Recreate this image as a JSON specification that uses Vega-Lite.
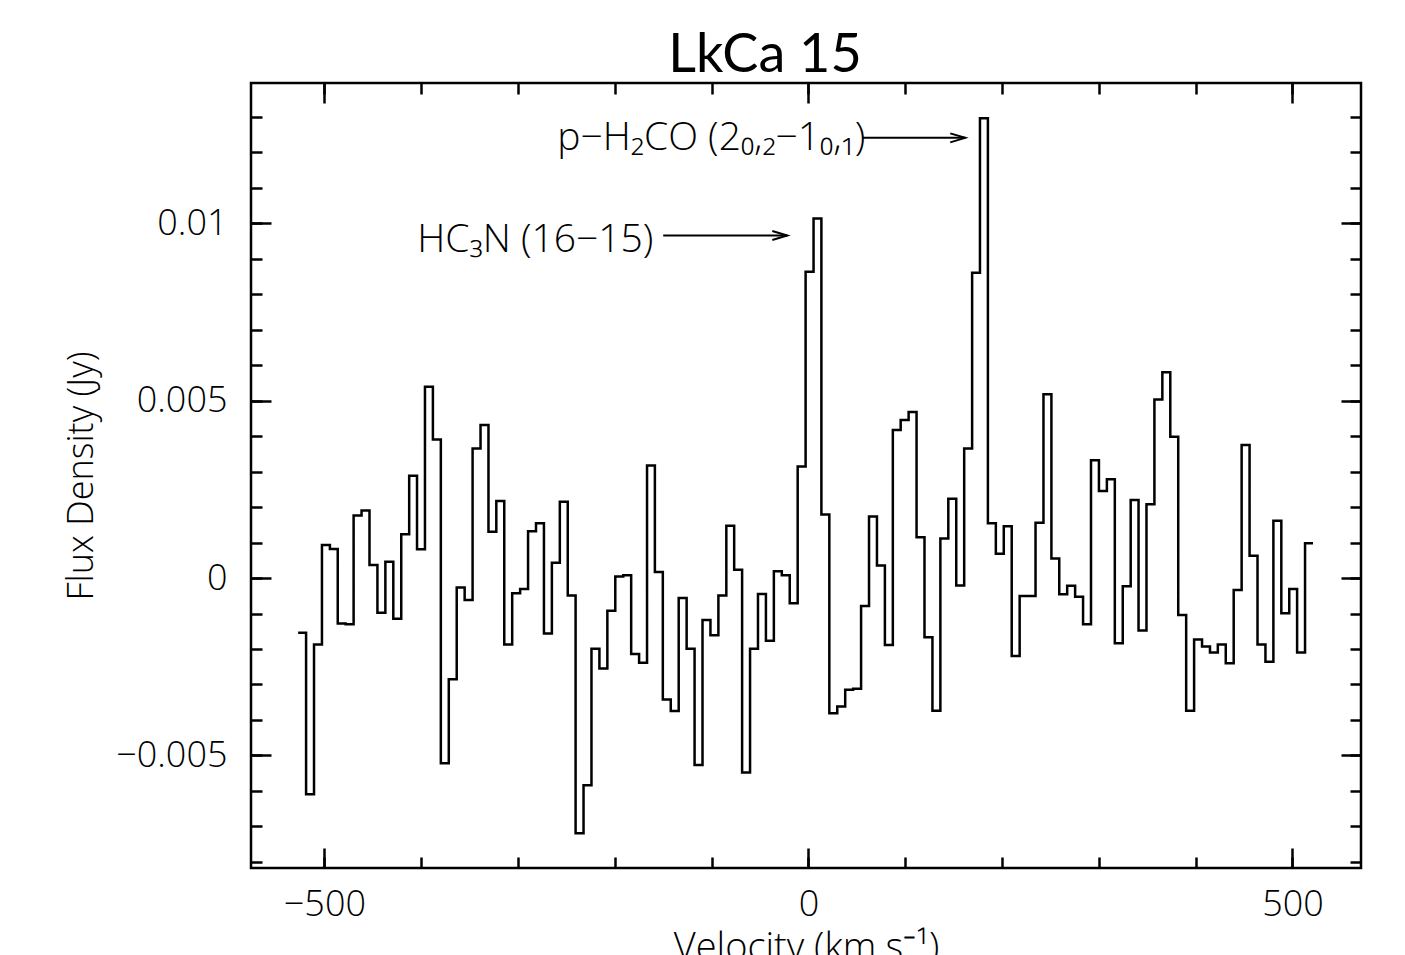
{
  "$schema": "https://vega.github.io/schema/vega-lite/v6.json",
  "width": 1110,
  "height": 785,
  "autosize": "none",
  "padding": {"left": 251, "top": 83, "right": 44, "bottom": 87},
  "background": "white",
  "config": {"view": {"stroke": "black", "strokeWidth": 2.5}},
  "title": {"text": "LkCa 15", "font": "Lato", "fontSize": 54, "fontWeight": "normal", "color": "black", "anchor": "middle", "dx": -41, "offset": -1},
  "datasets": {
    "spec": [
      {"v": -527.1, "flux": -0.00154}, {"v": -518.9, "flux": -0.00609}, {"v": -510.7, "flux": -0.00187}, {"v": -502.5, "flux": 0.00093},
      {"v": -494.3, "flux": 0.00082}, {"v": -486.2, "flux": -0.00128}, {"v": -478.0, "flux": -0.0013}, {"v": -469.8, "flux": 0.00176},
      {"v": -461.6, "flux": 0.0019}, {"v": -453.4, "flux": 0.00037}, {"v": -445.2, "flux": -0.00098}, {"v": -437.0, "flux": 0.00046},
      {"v": -428.8, "flux": -0.00115}, {"v": -420.6, "flux": 0.00123}, {"v": -412.4, "flux": 0.00288}, {"v": -404.3, "flux": 0.00081},
      {"v": -396.1, "flux": 0.00539}, {"v": -387.9, "flux": 0.0039}, {"v": -379.7, "flux": -0.00522}, {"v": -371.5, "flux": -0.00285},
      {"v": -363.3, "flux": -0.00027}, {"v": -355.1, "flux": -0.00062}, {"v": -346.9, "flux": 0.00365}, {"v": -338.7, "flux": 0.00431},
      {"v": -330.5, "flux": 0.0013}, {"v": -322.4, "flux": 0.00217}, {"v": -314.2, "flux": -0.00187}, {"v": -306.0, "flux": -0.00043},
      {"v": -297.8, "flux": -0.00031}, {"v": -289.6, "flux": 0.00132}, {"v": -281.4, "flux": 0.00154}, {"v": -273.2, "flux": -0.00156},
      {"v": -265.0, "flux": 0.00043}, {"v": -256.8, "flux": 0.00215}, {"v": -248.6, "flux": -0.00049}, {"v": -240.5, "flux": -0.00719},
      {"v": -232.3, "flux": -0.00584}, {"v": -224.1, "flux": -0.00199}, {"v": -215.9, "flux": -0.00255}, {"v": -207.7, "flux": -0.00092},
      {"v": -199.5, "flux": 0.00004}, {"v": -191.3, "flux": 0.00008}, {"v": -183.1, "flux": -0.00214}, {"v": -174.9, "flux": -0.00239},
      {"v": -166.7, "flux": 0.00317}, {"v": -158.6, "flux": 0.00017}, {"v": -150.4, "flux": -0.00342}, {"v": -142.2, "flux": -0.00375},
      {"v": -134.0, "flux": -0.00056}, {"v": -125.8, "flux": -0.00199}, {"v": -117.6, "flux": -0.00527}, {"v": -109.4, "flux": -0.00118},
      {"v": -101.2, "flux": -0.00161}, {"v": -93.0, "flux": -0.00049}, {"v": -84.8, "flux": 0.00147}, {"v": -76.7, "flux": 0.00023},
      {"v": -68.5, "flux": -0.00548}, {"v": -60.3, "flux": -0.00199}, {"v": -52.1, "flux": -0.00045}, {"v": -43.9, "flux": -0.00177},
      {"v": -35.7, "flux": 0.00019}, {"v": -27.5, "flux": 0.00008}, {"v": -19.3, "flux": -0.00071}, {"v": -11.1, "flux": 0.00314},
      {"v": -2.9, "flux": 0.00863}, {"v": 5.3, "flux": 0.01013}, {"v": 13.4, "flux": 0.00179}, {"v": 21.6, "flux": -0.00381},
      {"v": 29.8, "flux": -0.00362}, {"v": 38.0, "flux": -0.00315}, {"v": 46.2, "flux": -0.00312}, {"v": 54.4, "flux": -0.00079},
      {"v": 62.6, "flux": 0.00173}, {"v": 70.8, "flux": 0.00035}, {"v": 79.0, "flux": -0.00189}, {"v": 87.2, "flux": 0.00417},
      {"v": 95.3, "flux": 0.00445}, {"v": 103.5, "flux": 0.00468}, {"v": 111.7, "flux": 0.00115}, {"v": 119.9, "flux": -0.00167},
      {"v": 128.1, "flux": -0.00374}, {"v": 136.3, "flux": 0.00111}, {"v": 144.5, "flux": 0.00223}, {"v": 152.7, "flux": -0.00021},
      {"v": 160.9, "flux": 0.00365}, {"v": 169.1, "flux": 0.0086}, {"v": 177.2, "flux": 0.01295}, {"v": 185.4, "flux": 0.00154},
      {"v": 193.6, "flux": 0.00068}, {"v": 201.8, "flux": 0.00146}, {"v": 210.0, "flux": -0.0022}, {"v": 218.2, "flux": -0.00051},
      {"v": 226.4, "flux": -0.00051}, {"v": 234.6, "flux": 0.00156}, {"v": 242.8, "flux": 0.00518}, {"v": 251.0, "flux": 0.00055},
      {"v": 259.1, "flux": -0.00046}, {"v": 267.3, "flux": -0.00022}, {"v": 275.5, "flux": -0.00053}, {"v": 283.7, "flux": -0.0013},
      {"v": 291.9, "flux": 0.00332}, {"v": 300.1, "flux": 0.00245}, {"v": 308.3, "flux": 0.00278}, {"v": 316.5, "flux": -0.00184},
      {"v": 324.7, "flux": -0.00023}, {"v": 332.9, "flux": 0.0022}, {"v": 341.0, "flux": -0.00148}, {"v": 349.2, "flux": 0.00208},
      {"v": 357.4, "flux": 0.00503}, {"v": 365.6, "flux": 0.0058}, {"v": 373.8, "flux": 0.00398}, {"v": 382.0, "flux": -0.00104},
      {"v": 390.2, "flux": -0.00374}, {"v": 398.4, "flux": -0.00173}, {"v": 406.6, "flux": -0.00193}, {"v": 414.8, "flux": -0.0021},
      {"v": 422.9, "flux": -0.00187}, {"v": 431.1, "flux": -0.0024}, {"v": 439.3, "flux": -0.00034}, {"v": 447.5, "flux": 0.00375},
      {"v": 455.7, "flux": 0.00063}, {"v": 463.9, "flux": -0.00187}, {"v": 472.1, "flux": -0.00236}, {"v": 480.3, "flux": 0.00161},
      {"v": 488.5, "flux": -0.00099}, {"v": 496.7, "flux": -0.00031}, {"v": 504.8, "flux": -0.0021}, {"v": 513.0, "flux": 0.00098},
      {"v": 521.2, "flux": 0.00098}
    ],
    "labels": [
      {"label": "HC₃N (16−15)", "v": -404.0, "flux": 0.00918},
      {"label": "p−H₂CO (2₀,₂−1₀,₁)", "v": -259.4, "flux": 0.01205}
    ],
    "arrows": [
      {"v": -150.0, "v2": -21.8, "flux": 0.00965},
      {"v": 55.7, "v2": 162.0, "flux": 0.0124}
    ]
  },
  "data": {"name": "spec"},
  "resolve": {"axis": {"x": "independent", "y": "independent"}},
  "layer": [
    {
      "mark": {"type": "line", "interpolate": "step-after", "color": "black", "strokeWidth": 2.5, "strokeJoin": "miter"},
      "encoding": {
        "x": {"field": "v", "type": "quantitative", "scale": {"domain": [-575.8, 570.8], "nice": false, "zero": false},
          "axis": {"orient": "bottom", "values": [-500, 0, 500], "ticks": false, "domain": false, "grid": false, "labelFont": "Open Sans", "labelFontSize": 36, "labelFontWeight": 300, "labelColor": "black", "labelPadding": 19, "labelFlush": false, "labelOverlap": false, "title": "Velocity (km.s⁻¹)", "titleFont": "Open Sans", "titleFontSize": 38, "titleFontWeight": 300, "titleColor": "black", "titlePadding": 7}},
        "y": {"field": "flux", "type": "quantitative", "scale": {"domain": [-0.00817, 0.013946], "nice": false, "zero": false},
          "axis": {"orient": "left", "values": [-0.005, 0, 0.005, 0.01], "format": "~g", "ticks": false, "domain": false, "grid": false, "labelFont": "Open Sans", "labelFontSize": 36, "labelFontWeight": 300, "labelColor": "black", "labelPadding": 24, "labelOverlap": false, "title": "Flux Density (Jy)", "titleFont": "Open Sans", "titleFontSize": 36, "titleFontWeight": 300, "titleColor": "black", "titlePadding": 15}}
      }
    },
    {
      "mark": {"type": "line", "opacity": 0},
      "encoding": {
        "x": {"field": "v", "type": "quantitative", "axis": {"orient": "bottom", "values": [-500, 0, 500], "labels": false, "domain": false, "grid": false, "tickSize": -20, "tickWidth": 2.5, "tickColor": "black", "title": null}},
        "y": {"field": "flux", "type": "quantitative", "axis": {"orient": "left", "values": [-0.005, 0, 0.005, 0.01], "labels": false, "domain": false, "grid": false, "tickSize": -20, "tickWidth": 2.5, "tickColor": "black", "title": null}}
      }
    },
    {
      "mark": {"type": "line", "opacity": 0},
      "encoding": {
        "x": {"field": "v", "type": "quantitative", "axis": {"orient": "bottom", "values": [-500, -400, -300, -200, -100, 0, 100, 200, 300, 400, 500], "labels": false, "domain": false, "grid": false, "tickSize": -11, "tickWidth": 2.5, "tickColor": "black", "title": null}},
        "y": {"field": "flux", "type": "quantitative", "axis": {"orient": "left", "values": [-0.008, -0.007, -0.006, -0.005, -0.004, -0.003, -0.002, -0.001, 0, 0.001, 0.002, 0.003, 0.004, 0.005, 0.006, 0.007, 0.008, 0.009, 0.01, 0.011, 0.012, 0.013], "labels": false, "domain": false, "grid": false, "tickSize": -11, "tickWidth": 2.5, "tickColor": "black", "title": null}}
      }
    },
    {
      "mark": {"type": "line", "opacity": 0},
      "encoding": {
        "x": {"field": "v", "type": "quantitative", "axis": {"orient": "top", "values": [-500, 0, 500], "labels": false, "domain": false, "grid": false, "tickSize": -20, "tickWidth": 2.5, "tickColor": "black", "title": null}},
        "y": {"field": "flux", "type": "quantitative", "axis": {"orient": "right", "values": [-0.005, 0, 0.005, 0.01], "labels": false, "domain": false, "grid": false, "tickSize": -20, "tickWidth": 2.5, "tickColor": "black", "title": null}}
      }
    },
    {
      "mark": {"type": "line", "opacity": 0},
      "encoding": {
        "x": {"field": "v", "type": "quantitative", "axis": {"orient": "top", "values": [-500, -400, -300, -200, -100, 0, 100, 200, 300, 400, 500], "labels": false, "domain": false, "grid": false, "tickSize": -11, "tickWidth": 2.5, "tickColor": "black", "title": null}},
        "y": {"field": "flux", "type": "quantitative", "axis": {"orient": "right", "values": [-0.008, -0.007, -0.006, -0.005, -0.004, -0.003, -0.002, -0.001, 0, 0.001, 0.002, 0.003, 0.004, 0.005, 0.006, 0.007, 0.008, 0.009, 0.01, 0.011, 0.012, 0.013], "labels": false, "domain": false, "grid": false, "tickSize": -11, "tickWidth": 2.5, "tickColor": "black", "title": null}}
      }
    },
    {
      "data": {"name": "arrows"},
      "mark": {"type": "rule", "color": "black", "strokeWidth": 2},
      "encoding": {
        "x": {"field": "v", "type": "quantitative", "axis": null},
        "x2": {"field": "v2"},
        "y": {"field": "flux", "type": "quantitative", "axis": null}
      }
    },
    {
      "data": {"name": "arrows"},
      "mark": {"type": "point", "shape": "M-1,-0.3L0,0L-1,0.3", "filled": false, "stroke": "black", "strokeWidth": 2, "size": 900, "opacity": 1},
      "encoding": {
        "x": {"field": "v2", "type": "quantitative", "axis": null},
        "y": {"field": "flux", "type": "quantitative", "axis": null}
      }
    },
    {
      "data": {"name": "labels"},
      "mark": {"type": "text", "font": "Open Sans", "fontSize": 39, "fontWeight": 300, "color": "black", "align": "left", "baseline": "alphabetic"},
      "encoding": {
        "x": {"field": "v", "type": "quantitative", "axis": null},
        "y": {"field": "flux", "type": "quantitative", "axis": null},
        "text": {"field": "label"}
      }
    }
  ]
}
